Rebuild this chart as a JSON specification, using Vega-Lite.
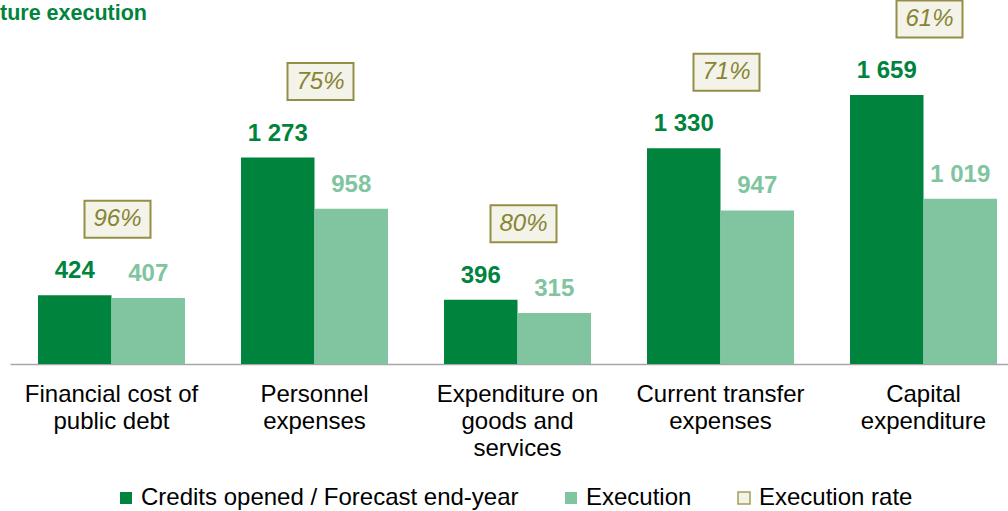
{
  "$schema": "https://vega.github.io/schema/vega-lite/v6.json",
  "width": 998,
  "height": 317,
  "autosize": {"type": "none"},
  "padding": {"left": 10, "top": 47, "right": 0, "bottom": 147},
  "background": "white",
  "title": {
    "text": "ture execution",
    "orient": "none",
    "anchor": "start",
    "baseline": "alphabetic",
    "dx": -10,
    "dy": -27,
    "fontSize": 21.5,
    "font": "Liberation Sans",
    "fontWeight": "bold",
    "color": "#00843D"
  },
  "config": {
    "view": {"stroke": null},
    "font": "Liberation Sans",
    "locale": {
      "number": {"decimal": ",", "thousands": " ", "grouping": [3], "currency": ["", " €"]}
    }
  },
  "datasets": {
    "bars": [
      {"category": "Financial cost of public debt", "series": "Credits opened / Forecast end-year", "value": 424},
      {"category": "Financial cost of public debt", "series": "Execution", "value": 407},
      {"category": "Personnel expenses", "series": "Credits opened / Forecast end-year", "value": 1273},
      {"category": "Personnel expenses", "series": "Execution", "value": 958},
      {"category": "Expenditure on goods and services", "series": "Credits opened / Forecast end-year", "value": 396},
      {"category": "Expenditure on goods and services", "series": "Execution", "value": 315},
      {"category": "Current transfer expenses", "series": "Credits opened / Forecast end-year", "value": 1330},
      {"category": "Current transfer expenses", "series": "Execution", "value": 947},
      {"category": "Capital expenditure", "series": "Credits opened / Forecast end-year", "value": 1659},
      {"category": "Capital expenditure", "series": "Execution", "value": 1019}
    ],
    "rates": [
      {"category": "Financial cost of public debt", "credits": 424, "rate": 0.96},
      {"category": "Personnel expenses", "credits": 1273, "rate": 0.75},
      {"category": "Expenditure on goods and services", "credits": 396, "rate": 0.80},
      {"category": "Current transfer expenses", "credits": 1330, "rate": 0.71},
      {"category": "Capital expenditure", "credits": 1659, "rate": 0.61}
    ]
  },
  "encoding": {
    "x": {
      "field": "category",
      "type": "nominal",
      "sort": ["Financial cost of public debt", "Personnel expenses", "Expenditure on goods and services", "Current transfer expenses", "Capital expenditure"],
      "scale": {"range": [0, 1015], "paddingInner": 0.276, "paddingOuter": 0.138},
      "axis": {
        "title": null,
        "ticks": false,
        "grid": false,
        "labelAngle": 0,
        "labelPadding": 18,
        "labelFontSize": 24,
        "labelFont": "Liberation Sans",
        "labelColor": "#000000",
        "labelLineHeight": 27,
        "labelLimit": 0,
        "labelOverlap": false,
        "domainColor": "#A6A6A6",
        "domainWidth": 1.5,
        "labelExpr": "datum.value == 'Financial cost of public debt' ? ['Financial cost of', 'public debt'] : datum.value == 'Personnel expenses' ? ['Personnel', 'expenses'] : datum.value == 'Expenditure on goods and services' ? ['Expenditure on', 'goods and', 'services'] : datum.value == 'Current transfer expenses' ? ['Current transfer', 'expenses'] : ['Capital', 'expenditure']"
      }
    },
    "y": {"type": "quantitative", "scale": {"domain": [0, 1955], "nice": false, "zero": true}, "axis": null}
  },
  "layer": [
    {
      "data": {"name": "bars"},
      "mark": {"type": "bar"},
      "encoding": {
        "y": {"field": "value", "type": "quantitative", "scale": {"domain": [0, 1955], "nice": false}, "axis": null},
        "xOffset": {"field": "series", "type": "nominal", "sort": ["Credits opened / Forecast end-year", "Execution"], "scale": {"paddingInner": 0, "paddingOuter": 0}},
        "color": {
          "field": "series",
          "type": "nominal",
          "scale": {
            "domain": ["Credits opened / Forecast end-year", "Execution", "Execution rate"],
            "range": ["#00843D", "#80C4A0", "#F4F3E9"]
          },
          "legend": {
            "orient": "none",
            "legendX": 104,
            "legendY": 439,
            "direction": "horizontal",
            "title": null,
            "padding": 0,
            "labelFontSize": 24,
            "labelFont": "Liberation Sans",
            "labelColor": "#000000",
            "labelLimit": 0,
            "symbolType": "square",
            "symbolSize": 144,
            "labelOffset": 3,
            "columnPadding": 40,
            "symbolOpacity": 1,
            "encode": {
              "symbols": {
                "update": {
                  "stroke": {"signal": "datum.label == 'Execution rate' ? '#A39E55' : null"},
                  "strokeWidth": {"value": 1.5}
                }
              }
            }
          }
        }
      }
    },
    {
      "data": {"name": "bars"},
      "mark": {"type": "text", "fontSize": 24, "fontWeight": "bold", "font": "Liberation Sans", "baseline": "middle", "dy": -24},
      "encoding": {
        "y": {"field": "value", "type": "quantitative", "scale": {"domain": [0, 1955], "nice": false}},
        "xOffset": {"field": "series", "type": "nominal", "sort": ["Credits opened / Forecast end-year", "Execution"]},
        "text": {"field": "value", "type": "quantitative", "format": ",d"},
        "color": {"field": "series", "type": "nominal", "legend": null}
      }
    },
    {
      "data": {"name": "rates"},
      "mark": {
        "type": "point",
        "shape": "M-1,-0.56L1,-0.56L1,0.56L-1,0.56Z",
        "size": 4356,
        "filled": true,
        "fill": "#F4F3E9",
        "stroke": "#948F45",
        "strokeWidth": 2,
        "opacity": 1,
        "yOffset": -76,
        "xOffset": 6
      },
      "encoding": {
        "y": {"field": "credits", "type": "quantitative", "scale": {"domain": [0, 1955], "nice": false}}
      }
    },
    {
      "data": {"name": "rates"},
      "mark": {
        "type": "text",
        "fontSize": 24,
        "fontStyle": "italic",
        "font": "Liberation Sans",
        "color": "#878535",
        "baseline": "middle",
        "yOffset": -76,
        "xOffset": 6
      },
      "encoding": {
        "y": {"field": "credits", "type": "quantitative", "scale": {"domain": [0, 1955], "nice": false}},
        "text": {"field": "rate", "type": "quantitative", "format": ".0%"}
      }
    }
  ]
}
